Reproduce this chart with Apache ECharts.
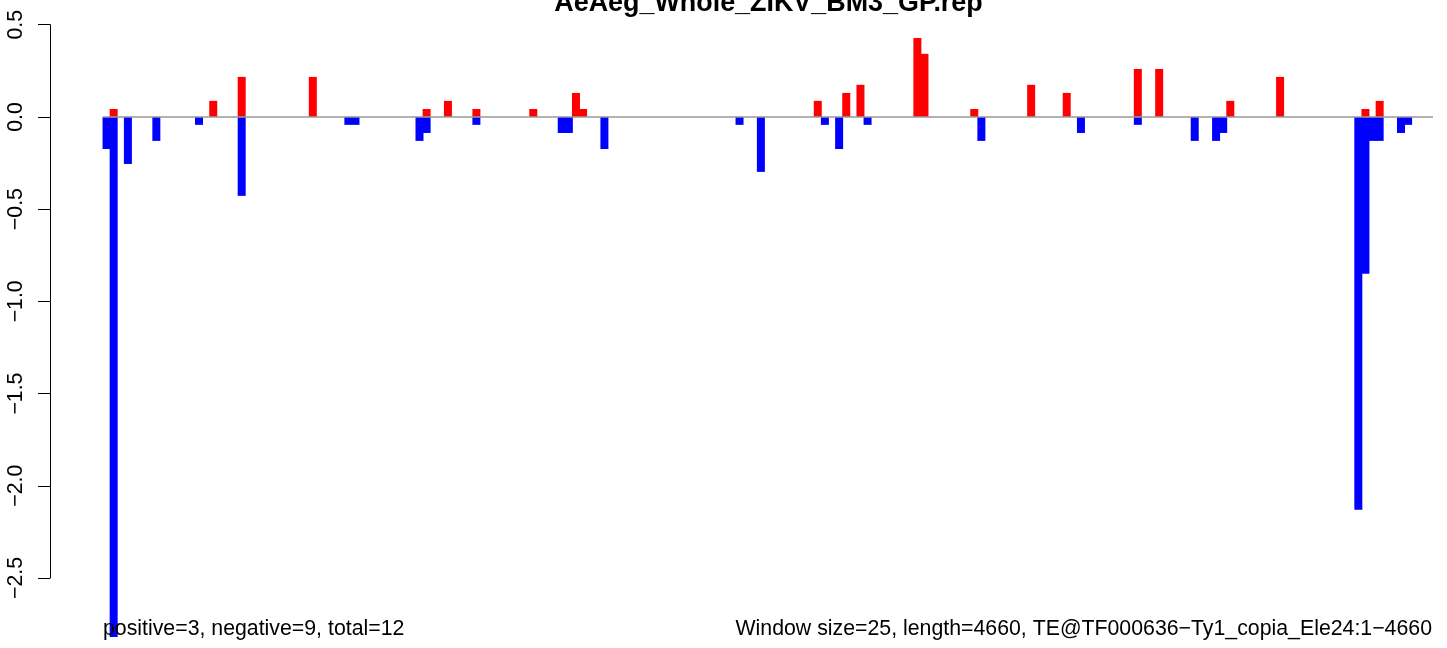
<!DOCTYPE html>
<html>
<head>
<meta charset="utf-8">
<script src="https://cdn.jsdelivr.net/npm/echarts@6/dist/echarts.min.js"></script>
<style>
html,body{margin:0;padding:0;background:#fff;}
#chart{width:1447px;height:648px;}
</style>
</head>
<body>
<div id="chart"></div>
<script>
// ---- data ----
const chartTitle = 'AeAeg_Whole_ZIKV_BM3_GP.rep';
const leftNote = 'positive=3, negative=9, total=12';
const rightNote = 'Window size=25, length=4660, TE@TF000636\u2212Ty1_copia_Ele24:1\u22124660';
const windowSize = 25;
const nWindows = 187;
const windowStarts = Array.from({length: nWindows}, (_, i) => i * windowSize + 1);

const posWindows = [1, 15, 19, 29, 45, 48, 52, 60, 66, 67, 100, 104, 106, 114, 115, 122, 130, 135, 145, 148, 158, 165, 177, 179];
const posValues  = [0.043, 0.087, 0.217, 0.217, 0.043, 0.087, 0.043, 0.043, 0.130, 0.043, 0.087, 0.130, 0.174, 0.428, 0.342, 0.043, 0.174, 0.130, 0.260, 0.260, 0.087, 0.217, 0.043, 0.087];

const negWindows = [0, 1, 3, 7, 13, 19, 34, 35, 44, 45, 52, 64, 65, 70, 89, 92, 101, 103, 107, 123, 137, 145, 153, 156, 157, 176, 177, 178, 179, 182, 183];
const negValues  = [-0.174, -2.82, -0.255, -0.130, -0.043, -0.428, -0.043, -0.043, -0.130, -0.087, -0.043, -0.087, -0.087, -0.174, -0.043, -0.298, -0.043, -0.174, -0.043, -0.130, -0.087, -0.043, -0.130, -0.130, -0.087, -2.13, -0.85, -0.130, -0.130, -0.087, -0.043];

const yTickValues = [-2.5, -2.0, -1.5, -1.0, -0.5, 0.0, 0.5];
const yTickLabels = ['\u22122.5', '\u22122.0', '\u22121.5', '\u22121.0', '\u22120.5', '0.0', '0.5'];

// ---- build ----
const posSeries = new Array(nWindows).fill(null);
posWindows.forEach((w, k) => { posSeries[w] = posValues[k]; });
const negSeries = new Array(nWindows).fill(null);
negWindows.forEach((w, k) => { negSeries[w] = negValues[k]; });

const FONT = "'Liberation Sans', Arial, Helvetica, sans-serif";
const chart = echarts.init(document.getElementById('chart'), null, {renderer: 'canvas'});
chart.setOption({
  animation: false,
  backgroundColor: '#ffffff',
  grid: {left: 103, right: 14, top: 24.7, bottom: 70, containLabel: false},
  xAxis: {
    type: 'category',
    data: windowStarts,
    boundaryGap: true,
    axisLine: {show: false},
    axisTick: {show: false},
    axisLabel: {show: false},
    splitLine: {show: false}
  },
  yAxis: {
    type: 'value',
    min: -2.5,
    max: 0.5,
    interval: 0.5,
    offset: 53,
    axisLine: {show: true, lineStyle: {color: '#000', width: 1}},
    axisTick: {show: true, length: 12, lineStyle: {color: '#000', width: 1}},
    splitLine: {show: false},
    axisLabel: {
      rotate: 90,
      margin: 23,
      fontSize: 21.3,
      fontFamily: FONT,
      color: '#000',
      formatter: function (v) {
        const idx = yTickValues.findIndex(t => Math.abs(t - v) < 1e-9);
        return idx >= 0 ? yTickLabels[idx] : '';
      }
    }
  },
  series: [
    {
      name: 'positive',
      type: 'bar',
      data: posSeries,
      barWidth: 8,
      barGap: '-100%',
      clip: false,
      itemStyle: {color: '#FF0000'},
      markLine: {
        silent: true,
        symbol: 'none',
        label: {show: false},
        lineStyle: {color: '#999999', width: 1.5, type: 'solid'},
        data: [{yAxis: 0}]
      }
    },
    {
      name: 'negative',
      type: 'bar',
      data: negSeries,
      barWidth: 8,
      barGap: '-100%',
      clip: false,
      itemStyle: {color: '#0000FF'}
    }
  ],
  graphic: [
    {type: 'text', x: 768.5, y: 3.5, z: 10,
     style: {text: chartTitle, font: "bold 26.9px " + FONT, fill: '#000', textAlign: 'center', textVerticalAlign: 'middle'}},
    {type: 'text', x: 103, y: 629.5, z: 10,
     style: {text: leftNote, font: "21.3px " + FONT, fill: '#000', textAlign: 'left', textVerticalAlign: 'middle'}},
    {type: 'text', x: 1432, y: 629.5, z: 10,
     style: {text: rightNote, font: "21.3px " + FONT, fill: '#000', textAlign: 'right', textVerticalAlign: 'middle'}}
  ]
});
</script>
</body>
</html>
